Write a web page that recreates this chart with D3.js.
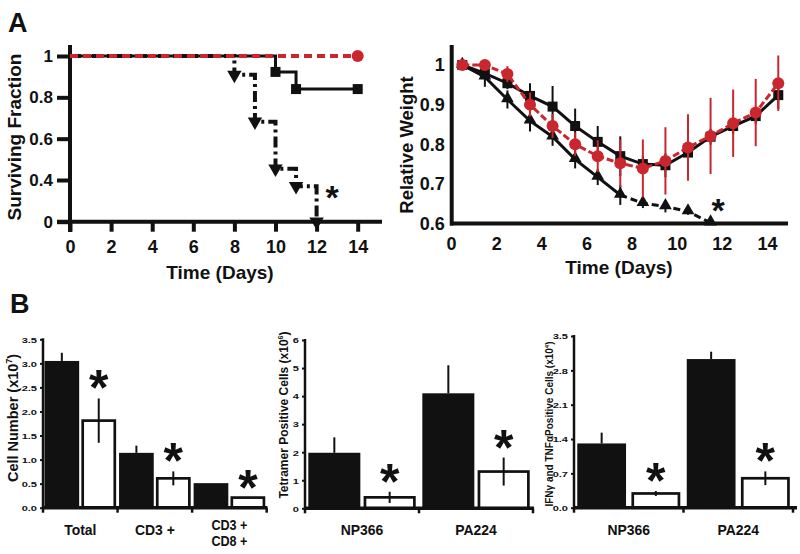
<!DOCTYPE html>
<html><head><meta charset="utf-8">
<script src="https://cdn.jsdelivr.net/npm/d3@7"></script>
<style>
body{margin:0;background:#fff}
svg text{font-family:"Liberation Sans",Arial,Helvetica,sans-serif;font-weight:bold;fill:#111}
</style>
</head><body>
<svg id="c" width="800" height="554"></svg>
<script>
// ---------------- DATA ----------------
// Panel A left: survival (Kaplan-Meier)
const survDays = [0, 2, 4, 6, 8, 10, 12, 14];
const survTicks = [0, 0.4, 0.6, 0.8, 1];
const survRedT = [0, 14];
const survRedV = [1, 1];
const survSqT = [0, 10, 11, 14];
const survSqV = [1, 0.923, 0.84, 0.84];
const survTriT = [0, 8, 9, 10, 11, 12];
const survTriV = [1, 0.909, 0.682, 0.455, 0.341, 0];
const survStar = [12.75, 0.3];

// Panel A right: relative weight
const wDaysTicks = [0, 2, 4, 6, 8, 10, 12, 14];
const wTicks = [0.6, 0.7, 0.8, 0.9, 1];
const wDays = [0.5, 1.5, 2.5, 3.5, 4.5, 5.5, 6.5, 7.5, 8.5, 9.5, 10.5, 11.5, 12.5, 13.5, 14.5];
const wRed = [1.0, 1.0, 0.977, 0.90, 0.846, 0.80, 0.77, 0.752, 0.739, 0.758, 0.792, 0.821, 0.853, 0.88, 0.954];
const wRedErr = [0, 0.005, 0.02, 0.03, 0.03, 0.03, 0.04, 0.06, 0.073, 0.085, 0.084, 0.096, 0.085, 0.085, 0.07];
const wSq = [1.0, 0.979, 0.954, 0.922, 0.895, 0.846, 0.806, 0.770, 0.750, 0.747, 0.779, 0.819, 0.846, 0.871, 0.924];
const wSqErr = [0, 0.01, 0.015, 0.032, 0.052, 0.044, 0.04, 0.05, 0.02, 0.03, 0.02, 0.02, 0.02, 0.02, 0.035];
const wTri = [1.0, 0.97, 0.913, 0.859, 0.819, 0.762, 0.717, 0.672, 0.651, 0.643, 0.630, 0.602];
const wTriErr = [0, 0.025, 0.023, 0.027, 0.023, 0.023, 0.02, 0.025, 0.012, 0.015, 0.008, 0];
const wStar = [11.83, 0.652];

// Panel B
const b1Cats = ["Total", "CD3 +", "CD3 +|CD8 +"];
const b1Black = [3.05, 1.14, 0.51];
const b1BlackErr = [0.17, 0.15, 0];
const b1White = [1.81, 0.61, 0.21];
const b1WhiteErr = [0.46, 0.145, 0];
const b1Ticks = [0, 0.5, 1.0, 1.5, 2.0, 2.5, 3.0, 3.5];

const b2Cats = ["NP366", "PA224"];
const b2Black = [1.98, 4.1];
const b2BlackErr = [0.55, 1.0];
const b2White = [0.39, 1.31];
const b2WhiteErr = [0.2, 0.5];
const b2Ticks = [0, 1, 2, 3, 4, 5, 6];

const b3Cats = ["NP366", "PA224"];
const b3Black = [1.31, 3.03];
const b3BlackErr = [0.22, 0.15];
const b3White = [0.29, 0.6];
const b3WhiteErr = [0.05, 0.14];
const b3Ticks = [0, 0.7, 1.4, 2.1, 2.8, 3.5];

// ---------------- DRAW ----------------
const svg = d3.select("#c");
const RED = "#c9262e";

svg.append("text").attr("x", 8).attr("y", 32).attr("font-size", 27).text("A");
svg.append("text").attr("x", 10).attr("y", 313).attr("font-size", 27).text("B");

// ===== Survival =====
{
  const x = d3.scaleLinear().domain([0, 14]).range([70, 357.7]);
  const y = d3.scaleLinear().domain([0, 0.4, 1]).range([221.7, 180, 56]);
  const g = svg.append("g");
  const ya = g.append("g").attr("transform", "translate(70,0)")
    .call(d3.axisLeft(y).tickValues(survTicks).tickSize(13).tickSizeOuter(0).tickPadding(4)
      .tickFormat(d => (d === 0 || d === 1) ? String(d) : d3.format(".1f")(d)));
  const xa = g.append("g").attr("transform", "translate(0,221.7)")
    .call(d3.axisBottom(x).tickValues(survDays).tickSize(10).tickSizeOuter(0).tickPadding(9));
  [ya, xa].forEach(a => {
    a.select(".domain").remove();
    a.selectAll("line").attr("stroke", "#111").attr("stroke-width", 4);
    a.selectAll("text").attr("font-size", 17).attr("fill", "#111")
      .style("font-family", '"Liberation Sans",Arial,sans-serif').style("font-weight", "bold");
  });
  xa.selectAll("text").attr("font-size", 18);
  g.append("line").attr("x1", 70).attr("x2", 70).attr("y1", 45).attr("y2", 232)
    .attr("stroke", "#111").attr("stroke-width", 4);
  g.append("line").attr("x1", 57).attr("x2", 382).attr("y1", y(0)).attr("y2", y(0))
    .attr("stroke", "#111").attr("stroke-width", 4);

  const line = d3.line().x(d => x(d[0])).y(d => y(d[1])).curve(d3.curveStepAfter);
  const sq = survSqT.map((t, i) => [t, survSqV[i]]);
  const tri = survTriT.map((t, i) => [t, survTriV[i]]);
  const red = survRedT.map((t, i) => [t, survRedV[i]]);

  g.append("path").attr("d", line(sq)).attr("fill", "none").attr("stroke", "#111").attr("stroke-width", 3);
  g.append("path").attr("d", line(tri)).attr("fill", "none").attr("stroke", "#111").attr("stroke-width", 4)
    .attr("stroke-dasharray", "11,4,3,4");
  g.append("path").attr("d", line(red)).attr("fill", "none").attr("stroke", RED).attr("stroke-width", 4)
    .attr("stroke-dasharray", "8,5");

  g.selectAll(".sq").data(sq.slice(1)).join("rect")
    .attr("x", d => x(d[0]) - 5).attr("y", d => y(d[1]) - 5).attr("width", 10).attr("height", 10).attr("fill", "#111");
  g.selectAll(".tri").data(tri.slice(1)).join("path")
    .attr("d", d3.symbol(d3.symbolTriangle, 90))
    .attr("transform", d => `translate(${x(d[0])},${y(d[1])}) rotate(180)`).attr("fill", "#111");
  g.append("circle").attr("cx", x(red[1][0])).attr("cy", y(red[1][1])).attr("r", 6).attr("fill", RED);

  g.append("text").attr("x", x(survStar[0])).attr("y", y(survStar[1]) + 19).attr("text-anchor", "middle")
    .attr("font-size", 34).text("*");
  g.append("text").attr("x", 220).attr("y", 279).attr("text-anchor", "middle").attr("font-size", 19).text("Time (Days)");
  g.append("text").attr("transform", "translate(21,137) rotate(-90)").attr("text-anchor", "middle")
    .attr("font-size", 19).text("Surviving Fraction");
}

// ===== Weight =====
{
  const x = d3.scaleLinear().domain([0, 14]).range([451, 767]);
  const y = d3.scaleLinear().domain([0.6, 1]).range([223.5, 65]);
  const g = svg.append("g");
  const ya = g.append("g").attr("transform", "translate(451.7,0)")
    .call(d3.axisLeft(y).tickValues(wTicks).tickSize(0).tickPadding(7)
      .tickFormat(d => d === 1 ? "1" : d3.format(".1f")(d)));
  const xa = g.append("g").attr("transform", "translate(0,223.5)")
    .call(d3.axisBottom(x).tickValues(wDaysTicks).tickSize(0).tickPadding(14));
  [ya, xa].forEach(a => {
    a.select(".domain").remove();
    a.selectAll("text").attr("font-size", 18).attr("fill", "#111")
      .style("font-family", '"Liberation Sans",Arial,sans-serif').style("font-weight", "bold");
  });
  g.append("line").attr("x1", 451.7).attr("x2", 451.7).attr("y1", 45).attr("y2", 225.5)
    .attr("stroke", "#111").attr("stroke-width", 4);
  g.append("line").attr("x1", 450).attr("x2", 788).attr("y1", 223.5).attr("y2", 223.5)
    .attr("stroke", "#111").attr("stroke-width", 4);

  const line = d3.line().x(d => x(d[0])).y(d => y(d[1]));
  const mk = (vals, errs) => vals.map((v, i) => ({ t: wDays[i], v, e: errs[i] }));
  const tri = mk(wTri, wTriErr), sq = mk(wSq, wSqErr), red = mk(wRed, wRedErr);
  const errs = (data, color) => g.append("g").selectAll("line").data(data.filter(d => d.e > 0)).join("line")
    .attr("x1", d => x(d.t)).attr("x2", d => x(d.t)).attr("y1", d => y(d.v - d.e)).attr("y2", d => y(d.v + d.e))
    .attr("stroke", color).attr("stroke-width", 2);

  // triangles
  g.append("path").attr("d", line(tri.slice(0, 8).map(d => [d.t, d.v]))).attr("fill", "none").attr("stroke", "#111").attr("stroke-width", 3);
  g.append("path").attr("d", line(tri.slice(7).map(d => [d.t, d.v]))).attr("fill", "none").attr("stroke", "#111").attr("stroke-width", 3)
    .attr("stroke-dasharray", "7,4");
  errs(tri, "#111");
  g.append("g").selectAll("path").data(tri).join("path").attr("d", d3.symbol(d3.symbolTriangle, 70))
    .attr("transform", d => `translate(${x(d.t)},${y(d.v) - 1})`).attr("fill", "#111");
  // squares
  g.append("path").attr("d", line(sq.map(d => [d.t, d.v]))).attr("fill", "none").attr("stroke", "#111").attr("stroke-width", 3);
  errs(sq, "#111");
  g.append("g").selectAll("rect").data(sq).join("rect")
    .attr("x", d => x(d.t) - 5).attr("y", d => y(d.v) - 5).attr("width", 10).attr("height", 10).attr("fill", "#111");
  // red
  g.append("path").attr("d", line(red.map(d => [d.t, d.v]))).attr("fill", "none").attr("stroke", RED).attr("stroke-width", 3)
    .attr("stroke-dasharray", "7,3");
  errs(red, RED);
  g.append("g").selectAll("circle").data(red).join("circle")
    .attr("cx", d => x(d.t)).attr("cy", d => y(d.v)).attr("r", 6).attr("fill", RED);

  g.append("text").attr("x", x(wStar[0])).attr("y", y(wStar[1]) + 19).attr("text-anchor", "middle")
    .attr("font-size", 34).text("*");
  g.append("text").attr("x", 619).attr("y", 274).attr("text-anchor", "middle").attr("font-size", 19).text("Time (Days)");
  g.append("text").attr("transform", "translate(413,145) rotate(-90)").attr("text-anchor", "middle")
    .attr("font-size", 18.5).text("Relative Weight");
}

// ===== Bar panels =====
function barPanel(o) {
  const g = svg.append("g");
  const x = d3.scaleBand().domain(o.cats).range([o.x0, o.x1]).padding(0);
  const inner = d3.scaleBand().domain(["b", "w"]).range([0, x.bandwidth()])
    .paddingInner(o.pin).paddingOuter(o.pout);
  const y = d3.scaleLinear().domain([0, o.max]).range([o.yb, o.yt]);

  const ya = g.append("g").attr("transform", `translate(${o.x0},0)`)
    .call(d3.axisLeft(y).tickValues(o.ticks).tickSize(3).tickSizeOuter(0).tickFormat(o.fmt));
  ya.select(".domain").remove();
  ya.selectAll("line").attr("stroke", "#111").attr("stroke-width", 2);
  ya.selectAll("text").attr("x", 0).attr("dy", null).attr("text-anchor", "end")
    .attr("transform", `translate(-6,2.8) scale(1.3,0.88)`)
    .attr("font-size", 8.5).attr("fill", "#111")
    .style("font-family", '"Liberation Sans",Arial,sans-serif').style("font-weight", "bold");
  g.append("line").attr("x1", o.x0).attr("x2", o.x0).attr("y1", o.yt - 1).attr("y2", o.yb + 1)
    .attr("stroke", "#111").attr("stroke-width", 2.5);

  o.cats.forEach((c, i) => {
    const bx = x(c) + inner("b"), wx = x(c) + inner("w"), bw = inner.bandwidth();
    g.append("rect").attr("x", bx).attr("y", y(o.black[i])).attr("width", bw).attr("height", y(0) - y(o.black[i])).attr("fill", "#111");
    g.append("rect").attr("x", wx + 1.3).attr("y", y(o.white[i])).attr("width", bw - 2.6).attr("height", y(0) - y(o.white[i]))
      .attr("fill", "#fff").attr("stroke", "#111").attr("stroke-width", 2.7);
    if (o.blackErr[i] > 0)
      g.append("line").attr("x1", bx + bw / 2).attr("x2", bx + bw / 2).attr("y1", y(o.black[i])).attr("y2", y(o.black[i] + o.blackErr[i]))
        .attr("stroke", "#111").attr("stroke-width", 2);
    if (o.whiteErr[i] > 0)
      g.append("line").attr("x1", wx + bw / 2).attr("x2", wx + bw / 2).attr("y1", y(o.white[i] - o.whiteErr[i])).attr("y2", y(o.white[i] + o.whiteErr[i]))
        .attr("stroke", "#111").attr("stroke-width", 2);
    const cy = y(o.white[i] + o.whiteErr[i]) - 20;
    g.append("text").attr("x", wx + bw / 2).attr("y", cy + 27).attr("text-anchor", "middle").attr("font-size", 50).text("*");
    // category label (one text per line)
    const parts = c.split("|");
    parts.forEach((p, k) => {
      const by = parts.length > 1 ? 529.5 + k * 16.5 : 535;
      g.append("text").attr("text-anchor", "middle").attr("font-size", parts.length > 1 ? 14 : 15.5)
        .attr("transform", `translate(${x(c) + x.bandwidth() / 2},${by}) scale(0.9,1)`).text(p);
    });
  });
  g.append("line").attr("x1", o.x0 - 1).attr("x2", o.xe).attr("y1", o.yb).attr("y2", o.yb).attr("stroke", "#111").attr("stroke-width", 3.5);
  const edges = o.cats.map(c => x(c)).concat([o.x1]);
  g.selectAll(".tk").data(edges).join("line").attr("x1", d => d).attr("x2", d => d).attr("y1", o.yb).attr("y2", o.yb + 5)
    .attr("stroke", "#111").attr("stroke-width", 2.5);
  const t = g.append("text").attr("transform", `translate(${o.tx},${o.ty}) rotate(-90)`).attr("text-anchor", "middle")
    .attr("font-size", o.tfs).text(o.title);
  t.append("tspan").attr("dy", -o.tfs * 0.4).attr("font-size", o.tfs * 0.6).text(o.sup);
  t.append("tspan").attr("dy", o.tfs * 0.4).text(")");
}

barPanel({ cats: b1Cats, black: b1Black, blackErr: b1BlackErr, white: b1White, whiteErr: b1WhiteErr,
  ticks: b1Ticks, fmt: d3.format(".1f"), max: 3.5, x0: 43, x1: 266.7, xe: 267.5, yb: 507.7, yt: 339.3,
  pin: 0.06, pout: 0.04, tx: 18, ty: 418, tfs: 14.5, title: "Cell Number (x10", sup: "7" });
barPanel({ cats: b2Cats, black: b2Black, blackErr: b2BlackErr, white: b2White, whiteErr: b2WhiteErr,
  ticks: b2Ticks, fmt: d3.format("d"), max: 6, x0: 305, x1: 533, xe: 534, yb: 508.3, yt: 340,
  pin: 0.06, pout: 0.06, tx: 288, ty: 415, tfs: 12, title: "Tetramer Positive Cells (x10", sup: "6" });
barPanel({ cats: b3Cats, black: b3Black, blackErr: b3BlackErr, white: b3White, whiteErr: b3WhiteErr,
  ticks: b3Ticks, fmt: d3.format(".1f"), max: 3.5, x0: 574, x1: 793, xe: 797, yb: 507.7, yt: 336,
  pin: 0.1, pout: 0.06, tx: 553, ty: 424, tfs: 10, title: "IFNγ and TNFαPositive Cells (x10", sup: "4" });
</script>
</body></html>
